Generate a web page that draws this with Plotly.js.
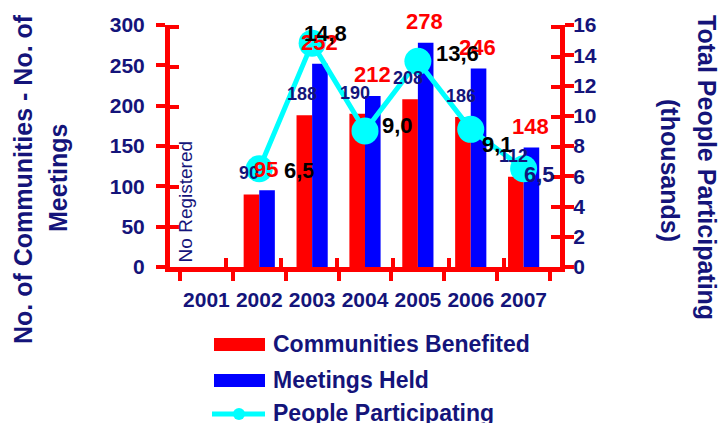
<!DOCTYPE html>
<html>
<head>
<meta charset="utf-8">
<script src="https://cdn.plot.ly/plotly-3.0.1.min.js"></script>
<style>html,body{margin:0;padding:0;background:#fff;}#chart{width:720px;height:423px;}</style>
</head>
<body>
<div id="chart"></div>
<script>
// ---- data ----
const years = ['2001','2002','2003','2004','2005','2006','2007'];
const communities = [null, 90, 188, 190, 208, 186, 112];
const meetings = [null, 95, 252, 212, 278, 246, 148];
const people = [null, 6.5, 14.8, 9.0, 13.6, 9.1, 6.5];
const seriesNames = ['Communities Benefited', 'Meetings Held', 'People Participating'];
const leftTitle = ['No. of Communities - No. of', 'Meetings'];
const rightTitle = ['Total People Participating', '(thousands)'];
const noDataNote = 'No Registered';

// ---- style ----
const FAM = '"Liberation Sans", Arial, sans-serif';
const NAVY = '#14147a';
const RED = '#ff0000';
const BLUE = '#0000ff';
const CYAN = '#00ffff';
// label offsets for people values (pixels)
const peopleLabelShift = [null, [40, -2], [13, 10], [32, 5], [40, 8], [27, -15], [16, -6]];
const peopleLabelColor = [null, '#000', '#000', '#000', '#000', '#000', NAVY];

const L = 170, R = 560, T = 25, B = 267;
const xp = px => (px - L) / (R - L);
const yp = py => (B - py) / (B - T);

const nullSeries = years.map(() => null);
const traces = [
  {type: 'bar', x: years, y: communities, name: seriesNames[0], marker: {color: RED}, hoverinfo: 'skip'},
  {type: 'bar', x: years, y: meetings, name: seriesNames[1], marker: {color: BLUE}, hoverinfo: 'skip'},
  {type: 'scatter', mode: 'lines+markers', x: years, y: people, yaxis: 'y2', name: seriesNames[2],
   line: {color: CYAN, width: 5}, marker: {color: CYAN, size: 27}, hoverinfo: 'skip'},
  // empty helper traces so the tick-only overlay axes are drawn
  {type: 'scatter', mode: 'markers', x: years, y: nullSeries, yaxis: 'y3', hoverinfo: 'skip', showlegend: false},
  {type: 'scatter', mode: 'markers', x: years, y: nullSeries, yaxis: 'y4', hoverinfo: 'skip', showlegend: false},
  {type: 'scatter', mode: 'markers', x: years.map((_, i) => i), y: nullSeries, xaxis: 'x2', hoverinfo: 'skip', showlegend: false}
];

const fmt = v => v.toFixed(1).replace('.', ',');
const annotations = [];
communities.forEach((v, i) => {
  if (v == null) return;
  annotations.push({xref: 'x', yref: 'y', x: i, y: v, text: String(v), showarrow: false, xanchor: 'center', yanchor: 'middle',
    xshift: -10, yshift: 21, font: {family: FAM, size: 18, color: NAVY, weight: 'bold'}});
});
meetings.forEach((v, i) => {
  if (v == null) return;
  annotations.push({xref: 'x', yref: 'y', x: i, y: v, text: String(v), showarrow: false, xanchor: 'center', yanchor: 'middle',
    xshift: 7, yshift: 21, font: {family: FAM, size: 22, color: RED, weight: 'bold'}});
});
people.forEach((v, i) => {
  if (v == null) return;
  annotations.push({xref: 'x', yref: 'y2', x: i, y: v, text: fmt(v), showarrow: false, xanchor: 'center', yanchor: 'middle',
    xshift: peopleLabelShift[i][0], yshift: peopleLabelShift[i][1],
    font: {family: FAM, size: 22, color: peopleLabelColor[i], weight: 'bold'}});
});
// No data note
annotations.push({xref: 'x', yref: 'paper', x: 0, y: yp(202), xshift: -21, text: noDataNote, xanchor: 'center', yanchor: 'middle',
  textangle: -90, showarrow: false, font: {family: FAM, size: 19, color: NAVY}});
// axis titles
const titleFont = {family: FAM, size: 25, color: NAVY, weight: 'bold'};
annotations.push({xref: 'paper', yref: 'paper', x: xp(23), y: yp(179), text: leftTitle[0], textangle: -90,
  xanchor: 'center', yanchor: 'middle', showarrow: false, font: titleFont});
annotations.push({xref: 'paper', yref: 'paper', x: xp(58), y: yp(178), text: leftTitle[1], textangle: -90,
  xanchor: 'center', yanchor: 'middle', showarrow: false, font: titleFont});
annotations.push({xref: 'paper', yref: 'paper', x: xp(707), y: yp(167), text: rightTitle[0], textangle: 90,
  xanchor: 'center', yanchor: 'middle', showarrow: false, font: titleFont});
annotations.push({xref: 'paper', yref: 'paper', x: xp(670), y: yp(170), text: rightTitle[1], textangle: 90,
  xanchor: 'center', yanchor: 'middle', showarrow: false, font: titleFont});
// legend text
const legY = [344, 380, 413];
seriesNames.forEach((n, i) => {
  annotations.push({xref: 'paper', yref: 'paper', x: xp(271), y: yp(legY[i]), xanchor: 'left', yanchor: 'middle',
    text: n, showarrow: false, font: {family: FAM, size: 23, color: NAVY, weight: 'bold'}});
});

const shapes = [
  {type: 'rect', xref: 'paper', yref: 'paper', x0: xp(214), x1: xp(265), y0: yp(351), y1: yp(338), fillcolor: RED, line: {width: 0}},
  {type: 'rect', xref: 'paper', yref: 'paper', x0: xp(214), x1: xp(265), y0: yp(387), y1: yp(374), fillcolor: BLUE, line: {width: 0}},
  {type: 'line', xref: 'paper', yref: 'paper', x0: xp(212), x1: xp(265), y0: yp(414), y1: yp(414), line: {color: CYAN, width: 5}},
  {type: 'circle', xref: 'paper', yref: 'paper', x0: xp(233), x1: xp(245), y0: yp(420), y1: yp(408), fillcolor: CYAN, line: {width: 0}}
];

const tickFont = {family: FAM, size: 21, color: NAVY, weight: 'bold'};
const axBase = {showgrid: false, zeroline: false, linecolor: RED, linewidth: 5, tickcolor: RED, tickwidth: 4, ticklen: 9, ticks: 'outside'};
const boundaries = years.map((_, i) => i - 0.5).concat([years.length - 0.5]);

const layout = {
  width: 720, height: 423,
  margin: {l: L, r: 720 - R, t: T, b: 423 - B, pad: 0},
  paper_bgcolor: '#fff', plot_bgcolor: '#fff',
  showlegend: false,
  barmode: 'group', bargap: 0.41, bargroupgap: 0,
  font: {family: FAM, color: NAVY},
  xaxis: Object.assign({}, axBase, {type: 'category', tickson: 'boundaries', tickangle: 0,
    tickfont: tickFont, ticklabelstandoff: 10}),
  xaxis2: Object.assign({}, axBase, {overlaying: 'x', anchor: 'y', side: 'bottom', type: 'linear', range: [-0.5, years.length - 0.5],
    tickmode: 'array', tickvals: boundaries, ticks: 'inside', showline: false, showticklabels: false}),
  yaxis: Object.assign({}, axBase, {range: [0, 300], dtick: 50, tickfont: tickFont, ticklabelstandoff: 7}),
  yaxis2: Object.assign({}, axBase, {overlaying: 'y', side: 'right', anchor: 'x', range: [0, 16], dtick: 2, tickfont: tickFont, ticklabelstandoff: -5}),
  yaxis3: Object.assign({}, axBase, {overlaying: 'y', side: 'left', anchor: 'x', range: [0, 302], tickmode: 'array', tickvals: [0, 50, 100, 150, 200, 250, 300],
    ticks: 'inside', showline: false, showticklabels: false}),
  yaxis4: Object.assign({}, axBase, {overlaying: 'y', side: 'right', anchor: 'x', range: [0, 16.1], tickmode: 'array', tickvals: [0, 2, 4, 6, 8, 10, 12, 14, 16],
    ticks: 'inside', showline: false, showticklabels: false}),
  annotations: annotations,
  shapes: shapes
};

Plotly.newPlot('chart', traces, layout, {displayModeBar: false, staticPlot: true});
</script>
</body>
</html>
